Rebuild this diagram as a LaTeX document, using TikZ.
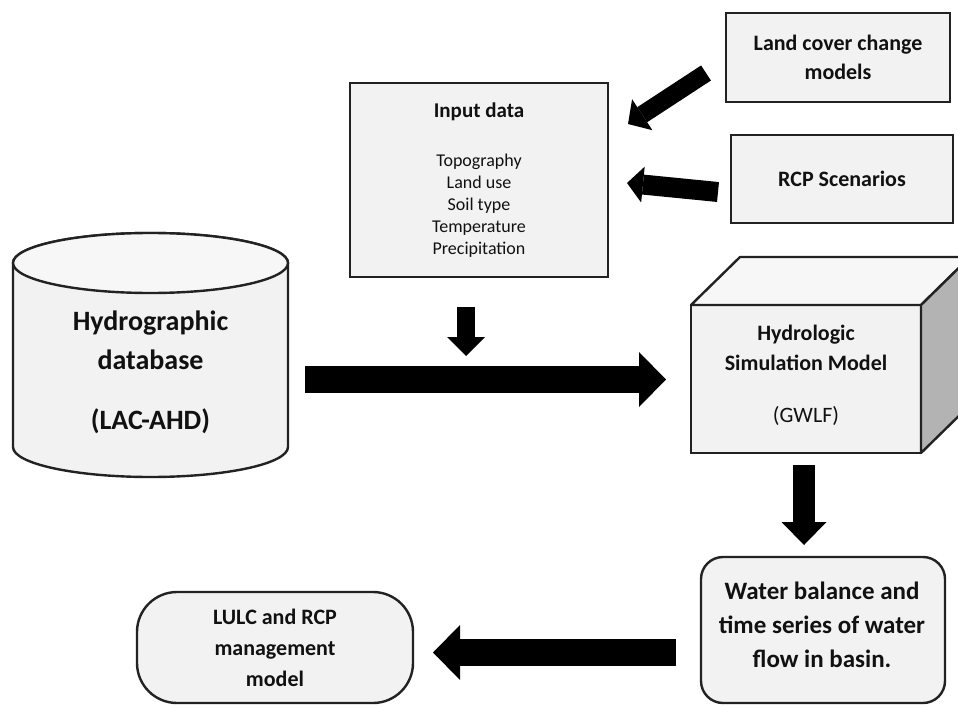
\documentclass[tikz,border=0pt]{standalone}
\usepackage{fontspec}
\setmainfont{Carlito}
\usetikzlibrary{arrows.meta,calc}
\definecolor{boxfill}{HTML}{F2F2F2}
\definecolor{topfill}{HTML}{F7F7F7}
\definecolor{sidefill}{HTML}{B3B3B3}
\definecolor{edge}{HTML}{222222}
\definecolor{ink}{HTML}{111111}
\begin{document}
\begin{tikzpicture}[x=1pt,y=-1pt,
  box/.style={draw=edge,line width=2.4pt,fill=boxfill,inner sep=0pt,outer sep=0pt,align=center,text=ink},
  label/.style={align=center,text=ink,inner sep=0pt},
  face/.style={draw=edge,line width=2.4pt,line join=round},
  blockarrow/.style n args={3}{draw=black,line width=#1,-{Triangle[length=#2,width=#3,line width=0pt]}}]
\useasboundingbox (0,0) rectangle (958,706);
\clip (0,0) rectangle (958,706);
\fill[white] (0,0) rectangle (958,706);

% ---- cylinder: Hydrographic database
\node[minimum width=275pt,minimum height=243pt,inner sep=0pt,outer sep=0pt] (cyl) at (150.5,354.5) {};
\path[face,fill=boxfill] (13,263) -- (13,447)
  arc[start angle=180,end angle=0,x radius=137.5,y radius=30] -- (288,263)
  arc[start angle=0,end angle=-180,x radius=137.5,y radius=30] -- cycle;
\path[face,fill=topfill] (150.5,263) ellipse[x radius=137.5,y radius=30];
\node[label,font=\fontsize{28}{39}\selectfont\bfseries] (cyltext) at (150.5,372)
  {Hydrographic\\database\\[21pt](LAC-AHD)};

% ---- Input data
\node[box,minimum width=258pt,minimum height=194pt,font=\fontsize{18}{22}\selectfont] (input) at (479,180)
  {{\fontsize{21}{22}\selectfont\bfseries Input data}\\[27pt]Topography\\Land use\\Soil type\\Temperature\\Precipitation};

% ---- Land cover change models
\node[box,minimum width=224pt,minimum height=89pt,font=\fontsize{22}{29}\selectfont\bfseries] (lc) at (838,57.5)
  {Land cover change\\models};

% ---- RCP Scenarios
\node[box,minimum width=222pt,minimum height=88pt,font=\fontsize{22}{29}\selectfont\bfseries] (rcp) at (842,179)
  {RCP Scenarios};

% ---- Cube: Hydrologic Simulation Model
\node[box,minimum width=230pt,minimum height=148pt] (cube) at (806,379) {};
\path[face,fill=topfill] (cube.north west) -- ++(49,-48) -- ++(230,0) -- (cube.north east) -- cycle;
\path[face,fill=sidefill] (cube.north east) -- ++(49,-48) -- ++(0,148) -- (cube.south east) -- cycle;
\node[label,font=\fontsize{22}{30}\selectfont] (cubetext) at (806,375)
  {\bfseries Hydrologic\\\bfseries Simulation Model\\[22pt](GWLF)};

% ---- Water balance
\node[box,rounded corners=22pt,minimum width=244pt,minimum height=146pt] (water) at (823,630) {};
\node[label,font=\fontsize{25}{34}\selectfont\bfseries] (watertext) at (822,625)
  {Water balance and\\time series of water\\flow in basin.};

% ---- LULC and RCP management model
\node[box,rounded corners=40pt,minimum width=276pt,minimum height=111pt,font=\fontsize{22}{31}\selectfont\bfseries] (lulc) at (275,647.5)
  {LULC and RCP\\management\\model};

% ---- arrows
\draw[blockarrow={27pt}{27pt}{55pt}] ($(cyl.east |- cube.west)+(17,0.5)$) -- ($(cube.west)+(-25,0.5)$);
\draw[blockarrow={18pt}{19pt}{38pt}] ($(input.south)+(-13,30)$) -- ($(input.south)+(-13,79)$);
\draw[blockarrow={18pt}{17pt}{37pt}] ($(lc.west)+(-20,15.5)$) -- ($(input.east)+(20,-56)$);
\draw[blockarrow={20pt}{16pt}{36pt}] ($(rcp.west)+(-13,13)$) -- ($(input.east)+(19,3)$);
\draw[blockarrow={22pt}{23pt}{45pt}] ($(cube.south)+(-2,12)$) -- ($(cube.south |- water.north)+(-2,-12)$);
\draw[blockarrow={27pt}{27pt}{55pt}] ($(water.west)+(-25,22.5)$) -- ($(lulc.east)+(20,5)$);
\end{tikzpicture}
\end{document}
